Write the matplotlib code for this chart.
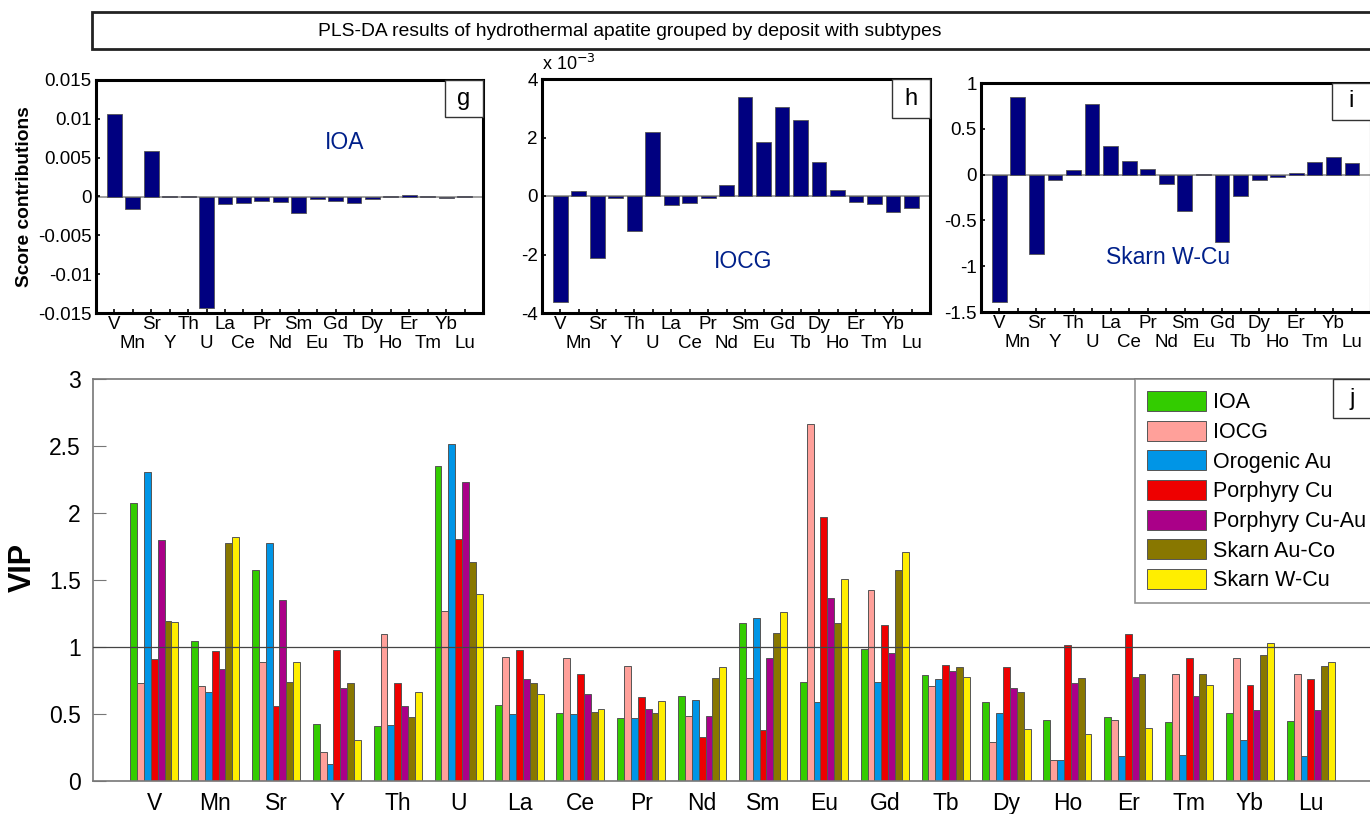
import numpy as np
import matplotlib.pyplot as plt
from matplotlib.patches import Rectangle

plt.rcParams['font.family'] = ['Liberation Sans', 'DejaVu Sans']

elements = ['V', 'Mn', 'Sr', 'Y', 'Th', 'U', 'La', 'Ce', 'Pr', 'Nd',
            'Sm', 'Eu', 'Gd', 'Tb', 'Dy', 'Ho', 'Er', 'Tm', 'Yb', 'Lu']

# score contributions (g: IOA, h: IOCG in units of 1e-3, i: Skarn W-Cu)
score_ioa = [0.0106, -0.0016, 0.0058, 0.0001, 0.0001, -0.0143, -0.00095, -0.00086, -0.00056, -0.00069,
             -0.00215, -0.0003, -0.00056, -0.00086, -0.0003, 0.0001, 0.00025, 0.0001, -0.00015, 0.00012]
score_iocg = [-3.62, 0.17, -2.13, -0.08, -1.21, 2.18, -0.31, -0.24, -0.08, 0.38,
              3.37, 1.86, 3.05, 2.60, 1.16, 0.21, -0.19, -0.26, -0.55, -0.41]
score_skarn_wcu = [-1.39, 0.85, -0.87, -0.06, 0.055, 0.77, 0.31, 0.15, 0.06, -0.10,
                   -0.40, 0.01, -0.74, -0.23, -0.06, -0.03, 0.02, 0.14, 0.19, 0.13]

# VIP per deposit type
deposits = ['IOA', 'IOCG', 'Orogenic Au', 'Porphyry Cu', 'Porphyry Cu-Au', 'Skarn Au-Co', 'Skarn W-Cu']
vip_ioa = [2.08, 1.05, 1.58, 0.43, 0.41, 2.35, 0.57, 0.51, 0.47, 0.64,
           1.18, 0.74, 0.99, 0.79, 0.59, 0.46, 0.48, 0.44, 0.51, 0.45]
vip_iocg = [0.73, 0.71, 0.89, 0.22, 1.10, 1.27, 0.93, 0.92, 0.86, 0.49,
            0.77, 2.67, 1.43, 0.71, 0.29, 0.16, 0.46, 0.80, 0.92, 0.80]
vip_orogenic = [2.31, 0.67, 1.78, 0.13, 0.42, 2.52, 0.50, 0.50, 0.47, 0.61,
                1.22, 0.59, 0.74, 0.76, 0.51, 0.16, 0.19, 0.20, 0.31, 0.19]
vip_porph_cu = [0.91, 0.97, 0.56, 0.98, 0.73, 1.81, 0.98, 0.80, 0.63, 0.33,
                0.38, 1.97, 1.17, 0.87, 0.85, 1.02, 1.10, 0.92, 0.72, 0.76]
vip_porph_cuau = [1.80, 0.84, 1.35, 0.70, 0.56, 2.23, 0.76, 0.65, 0.54, 0.49,
                  0.92, 1.37, 0.96, 0.82, 0.70, 0.73, 0.78, 0.64, 0.53, 0.53]
vip_skarn_auco = [1.20, 1.78, 0.74, 0.73, 0.48, 1.64, 0.73, 0.52, 0.51, 0.77,
                  1.11, 1.18, 1.58, 0.85, 0.67, 0.77, 0.80, 0.80, 0.94, 0.86]
vip_skarn_wcu = [1.19, 1.82, 0.89, 0.31, 0.67, 1.40, 0.65, 0.54, 0.60, 0.85,
                 1.26, 1.51, 1.71, 0.78, 0.39, 0.35, 0.40, 0.72, 1.03, 0.89]
colors = ['#33cc00', '#ffa09a', '#0095e6', '#ee0000', '#aa0088', '#887700', '#ffee00']

W, H = 1370, 814
fig = plt.figure(figsize=(W / 100, H / 100), dpi=100)


def axes_px(left, top, right, bottom):
    return fig.add_axes([left / W, 1 - bottom / H, (right - left) / W, (bottom - top) / H])


def letter_box(ax, letter, w, h):
    ax.add_patch(Rectangle((1 - w, 1 - h), w, h, transform=ax.transAxes, facecolor='white',
                           edgecolor='#333333', lw=1, zorder=10, clip_on=False))
    ax.text(1 - w / 2, 1 - h / 2, letter, transform=ax.transAxes, ha='center', va='center',
            fontsize=17, zorder=11)


def score_panel(ax, values, ylim, yticks, ylabels, letter, name, nx, ny, box):
    x = np.arange(1, len(elements) + 1)
    ax.bar(x, values, width=0.8, color='#000080', edgecolor='#555555', linewidth=0.6, zorder=2)
    ax.axhline(0, color='#999999', lw=1.3, zorder=1)
    ax.set_xlim(0, 21)
    ax.set_ylim(*ylim)
    ax.set_yticks(yticks)
    ax.set_yticklabels(ylabels)
    ax.set_xticks(x)
    ax.set_xticklabels(elements)
    ax.tick_params(direction='in', length=3, width=1.2, labelsize=13.5, pad=3)
    ax.tick_params(axis='x', pad=2.5)
    for t in ax.xaxis.get_major_ticks()[1::2]:
        t.set_pad(16)
    for s in ax.spines.values():
        s.set_linewidth(2.2)
    ax.text(nx, ny, name, transform=ax.transAxes, ha='center', va='center',
            color='#00208a', fontsize=16.5)
    letter_box(ax, letter, *box)


# title box
fig.add_artist(Rectangle((92 / W, 1 - 49 / H), 1300 / W, 37 / H, transform=fig.transFigure,
                         facecolor='white', edgecolor='#222222', lw=2))
fig.text(630 / W, 1 - 31 / H, 'PLS-DA results of hydrothermal apatite grouped by deposit with subtypes',
         ha='center', va='center', fontsize=13.9)

ax_g = axes_px(96, 80, 483, 313)
score_panel(ax_g, score_ioa, (-0.015, 0.015), np.arange(-0.015, 0.0151, 0.005),
            ['-0.015', '-0.01', '-0.005', '0', '0.005', '0.01', '0.015'],
            'g', 'IOA', 0.643, 0.73, (0.098, 0.16))
fig.text(25 / W, 1 - 197 / H, 'Score contributions', rotation=90, ha='center', va='center',
         fontsize=13.8, fontweight='bold')

ax_h = axes_px(541.7, 79, 930, 313)
score_panel(ax_h, score_iocg, (-4, 4), [-4, -2, 0, 2, 4], ['-4', '-2', '0', '2', '4'],
            'h', 'IOCG', 0.518, 0.218, (0.098, 0.167))
ax_h.text(0.0, 1.02, r'x 10$^{-3}$', transform=ax_h.transAxes, ha='left', va='bottom', fontsize=13)

ax_i = axes_px(980.7, 83, 1370.5, 312)
score_panel(ax_i, score_skarn_wcu, (-1.5, 1), [-1.5, -1, -0.5, 0, 0.5, 1],
            ['-1.5', '-1', '-0.5', '0', '0.5', '1'],
            'i', 'Skarn W-Cu', 0.48, 0.24, (0.0975, 0.16))

# VIP grouped bars
ax_j = axes_px(93.3, 379.3, 1371.8, 781.3)
vip = [vip_ioa, vip_iocg, vip_orogenic, vip_porph_cu, vip_porph_cuau, vip_skarn_auco, vip_skarn_wcu]
x = np.arange(1, len(elements) + 1)
bw = 0.113
for k in range(len(deposits)):
    ax_j.bar(x + (k - 3) * bw, vip[k], width=bw, color=colors[k], edgecolor='#555555',
             linewidth=0.7, label=deposits[k], zorder=2)
ax_j.axhline(1, color='#444444', lw=0.9, zorder=3)
ax_j.set_xlim(0, 21)
ax_j.set_ylim(0, 3)
ax_j.set_yticks(np.arange(0, 3.01, 0.5))
ax_j.set_yticklabels(['0', '0.5', '1', '1.5', '2', '2.5', '3'])
ax_j.set_xticks(x)
ax_j.set_xticklabels(elements)
ax_j.tick_params(axis='y', direction='in', length=9, color='#777777', labelsize=16.5, pad=9)
ax_j.tick_params(axis='x', length=0, labelsize=16.5, pad=8)
for s in ax_j.spines.values():
    s.set_color('#777777')
    s.set_linewidth(1.2)
fig.text(22.5 / W, 1 - 568 / H, 'VIP', rotation=90, ha='center', va='center',
         fontsize=22, fontweight='bold')

leg = ax_j.legend(loc='upper left', bbox_to_anchor=(0.8148, 1.0), borderaxespad=0,
                  prop={'size': 15.5}, frameon=True, fancybox=False,
                  handlelength=2.75, handleheight=1.05, handletextpad=0.3, labelspacing=0.34,
                  borderpad=0.55)
leg.get_frame().set_edgecolor('#777777')
leg.get_frame().set_linewidth(1.2)
letter_box(ax_j, 'j', 0.0303, 0.097)

plt.savefig('out.png', dpi=100)
